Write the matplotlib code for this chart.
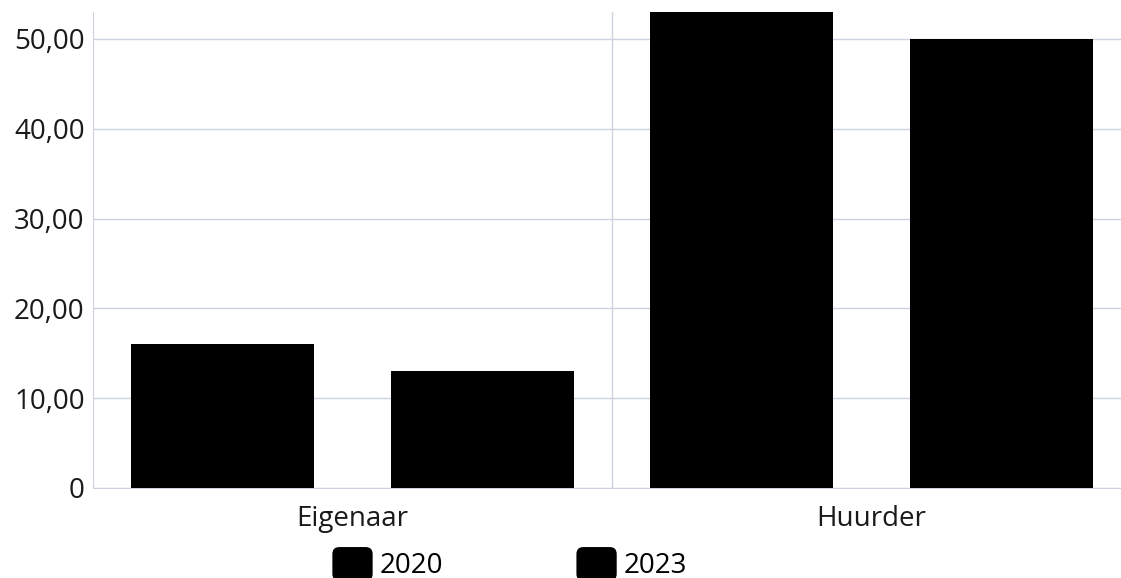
import matplotlib
matplotlib.use("Agg")
import matplotlib.pyplot as plt
import numpy as np
from matplotlib.patches import Patch, FancyBboxPatch
from matplotlib.legend_handler import HandlerPatch

# data
categories = ["Eigenaar", "Huurder"]
years = ["2020", "2023"]
values_2020 = [16.0, 53.5]
values_2023 = [13.0, 50.0]
yticks = [0, 10, 20, 30, 40, 50]
ytick_labels = ["0", "10,00", "20,00", "30,00", "40,00", "50,00"]

plt.rcParams['font.family'] = ['Open Sans', 'DejaVu Sans']
grid_col = "#ccd3de"

fig = plt.figure(figsize=(11.21, 5.78), dpi=100)
W, H = 1121, 578
ax = fig.add_axes([93 / W, 90 / H, (1131 - 93) / W, (488 - 12) / H])

x = np.arange(len(categories))
bw = 0.353
ax.bar(x - 0.25, values_2020, bw, color="black", label=years[0], zorder=3)
ax.bar(x + 0.25, values_2023, bw, color="black", label=years[1], zorder=3)

ax.set_xlim(-0.5, 1.5)
ax.set_ylim(0, 53)
ax.set_yticks(yticks)
ax.set_yticklabels(ytick_labels)
ax.set_xticks(x)
ax.set_xticklabels(categories)
ax.tick_params(axis="both", length=0, labelsize=20, colors="#1a1a1a")
ax.tick_params(axis="y", pad=6)
ax.tick_params(axis="x", pad=12)

for s in ["top", "right"]:
    ax.spines[s].set_visible(False)
ax.spines["left"].set_color(grid_col)
ax.spines["bottom"].set_color(grid_col)
ax.yaxis.grid(True, color=grid_col, linewidth=1, zorder=0)
ax.axvline(0.5, color=grid_col, linewidth=1, zorder=0)


def rounded(legend, orig_handle, xdescent, ydescent, width, height, fontsize):
    return FancyBboxPatch((-xdescent + 1, -ydescent), width - 2, height,
                          boxstyle="round,pad=0,rounding_size=5")


handles = [Patch(facecolor="black", label=y) for y in years]
fig.legend(handles=handles, loc="center", bbox_to_anchor=(509 / W, 1 - 564 / H),
           ncol=2, frameon=False, fontsize=20, handlelength=1.55, handleheight=1.5,
           handletextpad=0.2, columnspacing=4.75,
           handler_map={Patch: HandlerPatch(patch_func=rounded)})

fig.savefig("out.png", dpi=100)
